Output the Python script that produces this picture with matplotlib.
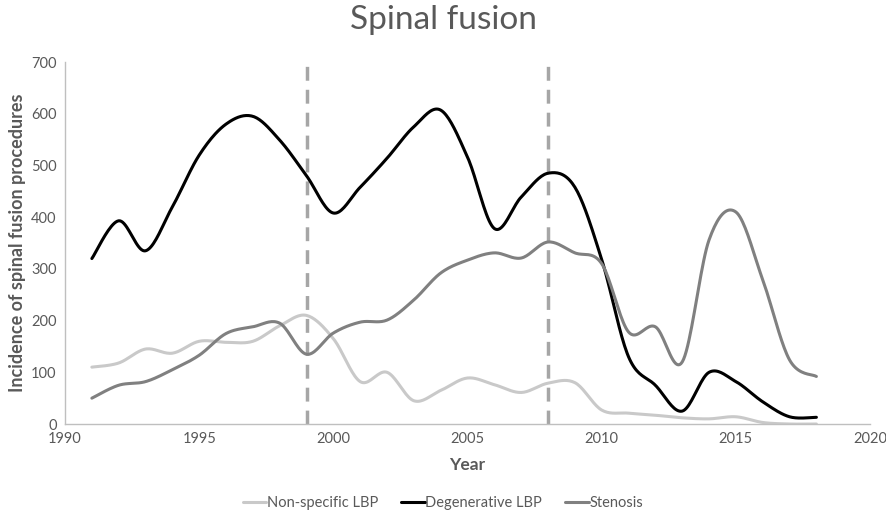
import numpy as np
import matplotlib.pyplot as plt

plt.rcParams['font.family'] = ['Lato', 'DejaVu Sans']

years = list(range(1991, 2019))
non_specific = [110, 118, 145, 137, 160, 158, 160, 190, 210, 165, 82, 100, 45, 65,
                89, 76, 61, 79, 80, 27, 21, 17, 12, 10, 14, 3, 0, 0]
degenerative = [320, 393, 335, 420, 520, 580, 595, 549, 480, 408, 458, 514, 575, 607,
                516, 378, 439, 485, 458, 318, 130, 75, 25, 100, 82, 43, 14, 13]
stenosis = [50, 75, 82, 105, 133, 175, 188, 195, 135, 176, 197, 201, 240, 292,
            317, 331, 321, 352, 331, 310, 178, 188, 120, 356, 410, 279, 124, 92]
breaks = [1999, 2008]


def smooth(x, y, n=20):
    # excel style smoothed line (catmull-rom through the points)
    x = np.asarray(x, float)
    y = np.asarray(y, float)
    px = np.concatenate([[x[0]], x, [x[-1]]])
    py = np.concatenate([[y[0]], y, [y[-1]]])
    xs, ys = [], []
    t = np.linspace(0, 1, n, endpoint=False)
    for i in range(1, len(px) - 2):
        p0, p1, p2, p3 = py[i - 1], py[i], py[i + 1], py[i + 2]
        q0, q1, q2, q3 = px[i - 1], px[i], px[i + 1], px[i + 2]
        c1y, c2y = p1 + (p2 - p0) / 6, p2 - (p3 - p1) / 6
        c1x, c2x = q1 + (q2 - q0) / 6, q2 - (q3 - q1) / 6
        b = [(1 - t) ** 3, 3 * (1 - t) ** 2 * t, 3 * (1 - t) * t ** 2, t ** 3]
        xs.append(b[0] * q1 + b[1] * c1x + b[2] * c2x + b[3] * q2)
        ys.append(b[0] * p1 + b[1] * c1y + b[2] * c2y + b[3] * p2)
    xs.append([x[-1]])
    ys.append([y[-1]])
    return np.concatenate(xs), np.concatenate(ys)


fig = plt.figure(figsize=(8.86, 5.24), dpi=100)
ax = fig.add_axes([0.0734, 0.1908, 0.9086, 0.6908])

for b in breaks:
    ax.axvline(b, color='#a6a6a6', lw=2.5, ls=(0, (4, 2.6)), zorder=1)

series = [(non_specific, '#c9c9c9', 'Non-specific LBP'),
          (degenerative, '#000000', 'Degenerative LBP'),
          (stenosis, '#808080', 'Stenosis')]
for vals, col, lab in series:
    sx, sy = smooth(years, vals)
    ax.plot(sx, sy, color=col, lw=2.2, label=lab, zorder=2, solid_capstyle='round')

ax.set_xlim(1990, 2020)
ax.set_ylim(0, 700)
ax.set_xticks(range(1990, 2021, 5))
ax.set_yticks(range(0, 701, 100))
ax.tick_params(length=0, labelsize=10.5, colors='#595959', pad=6)
for s in ['top', 'right']:
    ax.spines[s].set_visible(False)
for s in ['left', 'bottom']:
    ax.spines[s].set_color('#bfbfbf')
    ax.spines[s].set_linewidth(1)

ax.set_xlabel('Year', fontsize=12.5, fontweight='bold', color='#595959', labelpad=8)
ax.set_ylabel('Incidence of spinal fusion procedures', fontsize=13,
              fontweight='bold', color='#595959', labelpad=4)
fig.text(0.5, 0.9447, 'Spinal fusion', ha='center', va='baseline', fontsize=24, color='#595959')

leg = fig.legend(loc='center', bbox_to_anchor=(0.5, 0.04), ncol=3, frameon=False,
                 fontsize=10.5, handlelength=1.6, handletextpad=0.05, columnspacing=1.6)
for t in leg.get_texts():
    t.set_color('#595959')

fig.savefig('out.png', dpi=100)
